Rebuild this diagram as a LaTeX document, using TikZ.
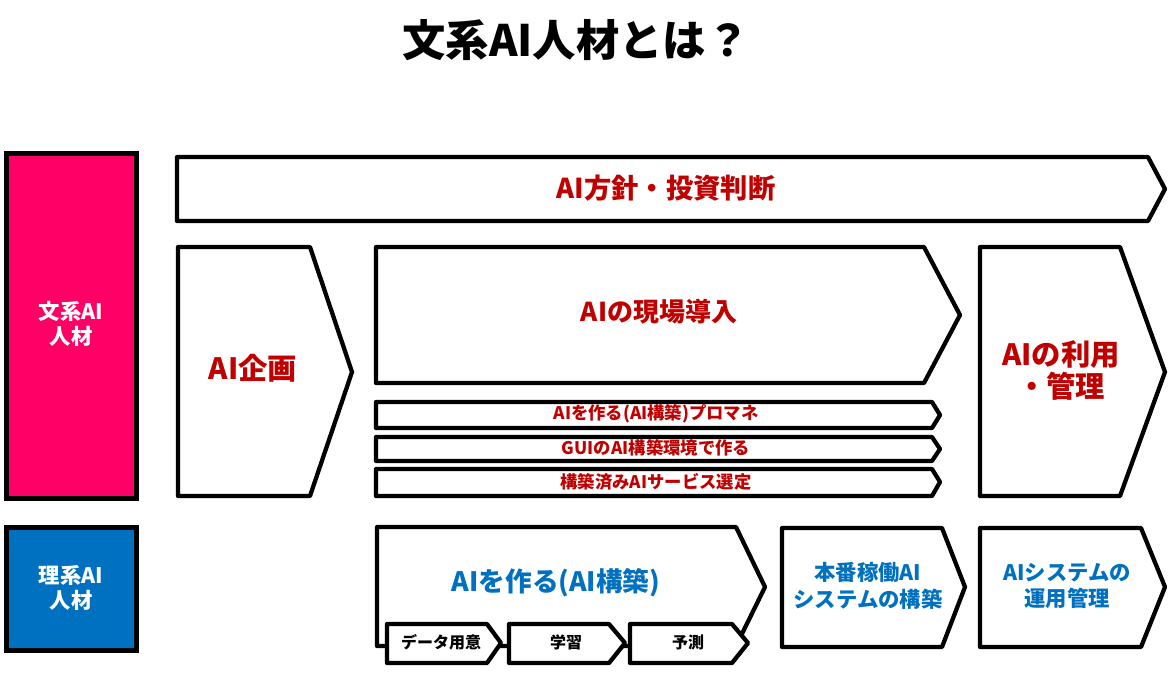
\documentclass[tikz,border=0pt]{standalone}
\usepackage{fontspec}
\setmainfont{Noto Sans CJK JP}
\usetikzlibrary{calc}

\definecolor{aired}{HTML}{C00000}
\definecolor{aiblue}{HTML}{0070C0}
\definecolor{bunpink}{HTML}{FF0066}

\begin{document}
\begin{tikzpicture}[x=0.75pt, y=-0.75pt,
  chev/.style={draw=black, line width=3.2pt, line join=round, fill=white},
  lbl/.style={font=\bfseries, align=center, inner sep=0pt}]
\useasboundingbox (0,0) rectangle (1174,679);

\node[lbl, font=\bfseries\fontsize{32.5}{36}\selectfont] (title) at (576,40) {文系AI人材とは？};

% left boxes
\draw[line width=3.8pt, fill=bunpink] (6.5,153.5) rectangle (136.5,498.5);
\node[lbl, white, font=\bfseries\fontsize{16}{19}\selectfont] (bunkei) at (71,324) {文系AI\\人材};
\draw[line width=3.8pt, fill=aiblue] (6.5,527.5) rectangle (136.5,650.5);
\node[lbl, white, font=\bfseries\fontsize{16}{19}\selectfont] (rikei) at (71,588) {理系AI\\人材};

% top row
\draw[chev] (177,157) -- (1148,157) -- (1165,189) -- (1148,221) -- (177,221) -- cycle;
\node[lbl, aired, font=\bfseries\fontsize{20.5}{24}\selectfont] (policy) at (666,188) {AI方針・投資判断};

\draw[chev] (178,247) -- (310,247) -- (352,372) -- (310,496) -- (178,496) -- cycle;
\node[lbl, aired, font=\bfseries\fontsize{22}{26}\selectfont] (plan) at (253,368) {AI企画};

\draw[chev] (376,247) -- (924,247) -- (960,315) -- (924,383) -- (376,383) -- cycle;
\node[lbl, aired, font=\bfseries\fontsize{19.5}{23}\selectfont] (field) at (659,312) {AIの現場導入};

\draw[chev] (376,402) -- (932,402) -- (940,415) -- (932,428) -- (376,428) -- cycle;
\node[lbl, aired, font=\bfseries\fontsize{13}{16}\selectfont] (pm) at (656,414) {AIを作る(AI構築)プロマネ};
\draw[chev] (376,437) -- (932,437) -- (940,449) -- (932,461) -- (376,461) -- cycle;
\node[lbl, aired, font=\bfseries\fontsize{13}{16}\selectfont] (gui) at (656,448) {GUIのAI構築環境で作る};
\draw[chev] (376,469) -- (932,469) -- (940,482) -- (932,496) -- (376,496) -- cycle;
\node[lbl, aired, font=\bfseries\fontsize{13}{16}\selectfont] (svc) at (656,482) {構築済みAIサービス選定};

\draw[chev] (980,247) -- (1120,247) -- (1165,372) -- (1120,496) -- (980,496) -- cycle;
\node[lbl, aired, font=\bfseries\fontsize{22}{24}\selectfont] (use) at (1061,370) {AIの利用\\・管理};

% bottom row
\draw[chev] (377,527) -- (736,527) -- (765,587) -- (736,646) -- (377,646) -- cycle;
\node[lbl, aiblue, font=\bfseries\fontsize{20}{24}\selectfont] (build) at (556,583) {AIを作る(AI構築)};

\draw[chev] (387,624) -- (487,624) -- (501,643) -- (487,663) -- (387,663) -- cycle;
\node[lbl, font=\bfseries\fontsize{12}{14}\selectfont] (data) at (441,642) {データ用意};
\draw[chev] (509,624) -- (609,624) -- (625,643) -- (609,663) -- (509,663) -- cycle;
\node[lbl, font=\bfseries\fontsize{12}{14}\selectfont] (learn) at (566,642) {学習};
\draw[chev] (630,624) -- (732,624) -- (748,643) -- (732,663) -- (630,663) -- cycle;
\node[lbl, font=\bfseries\fontsize{12}{14}\selectfont] (pred) at (688,642) {予測};

\draw[chev] (782,528) -- (942,528) -- (965,587) -- (942,647) -- (782,647) -- cycle;
\node[lbl, aiblue, font=\bfseries\fontsize{16}{20}\selectfont] (prod) at (868,586) {本番稼働AI\\システムの構築};

\draw[chev] (980,528) -- (1141,528) -- (1165,587) -- (1141,647) -- (980,647) -- cycle;
\node[lbl, aiblue, font=\bfseries\fontsize{16}{20}\selectfont] (ops) at (1067,586) {AIシステムの\\運用管理};

\end{tikzpicture}
\end{document}
